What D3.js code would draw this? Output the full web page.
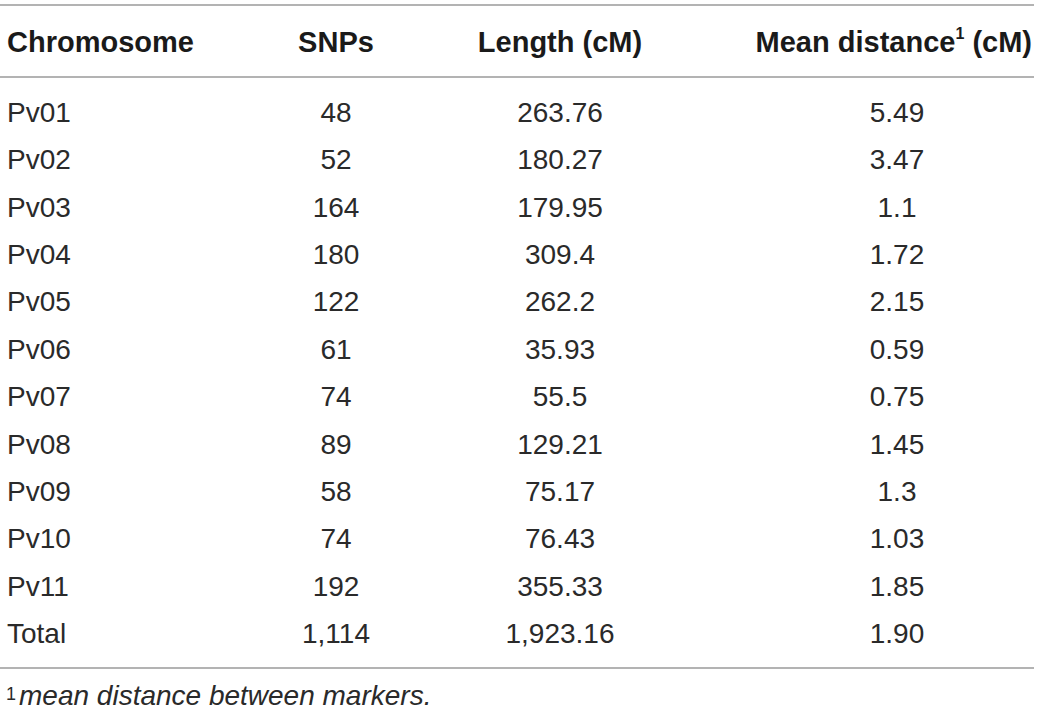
<!DOCTYPE html>
<html>
<head>
<meta charset="utf-8">
<script src="https://cdn.jsdelivr.net/npm/d3@7"></script>
<style>
  body { margin: 0; background: #fff; }
  svg { display: block; font-family: "Liberation Sans", Arial, sans-serif; }
</style>
</head>
<body>
<div id="table"></div>
<script>
// table values
var chromosomes = ["Pv01", "Pv02", "Pv03", "Pv04", "Pv05", "Pv06", "Pv07", "Pv08", "Pv09", "Pv10", "Pv11", "Total"];
var snps = ["48", "52", "164", "180", "122", "61", "74", "89", "58", "74", "192", "1,114"];
var lengths = ["263.76", "180.27", "179.95", "309.4", "262.2", "35.93", "55.5", "129.21", "75.17", "76.43", "355.33", "1,923.16"];
var meanDist = ["5.49", "3.47", "1.1", "1.72", "2.15", "0.59", "0.75", "1.45", "1.3", "1.03", "1.85", "1.90"];
var headers = ["Chromosome", "SNPs", "Length (cM)", "Mean distance"];
var footnote = "mean distance between markers.";

var W = 1040, H = 718;
var textColor = "#2a2a2a";
var ruleColor = "#9a9a9a";

var svg = d3.select("#table").append("svg")
  .attr("width", W)
  .attr("height", H);

// row baselines
var y = d3.scalePoint()
  .domain(chromosomes)
  .range([122, 643]);

// column centres (first column is left aligned)
var colX = d3.scaleOrdinal()
  .domain(["chrom", "snps", "length", "mean"])
  .range([7, 336, 560, 897]);

// rules
var rules = [5, 77, 668];
svg.selectAll(".rule")
  .data(rules)
  .enter()
  .append("line")
  .attr("class", "rule")
  .attr("x1", 0)
  .attr("x2", 1034)
  .attr("y1", function(d) { return d; })
  .attr("y2", function(d) { return d; })
  .attr("stroke", ruleColor)
  .attr("stroke-width", 1.5);

// header
var head = svg.append("g")
  .attr("font-weight", "bold")
  .attr("font-size", 29)
  .attr("fill", "#1a1a1a");

head.append("text")
  .attr("x", colX("chrom"))
  .attr("y", 52)
  .text(headers[0]);

head.append("text")
  .attr("x", colX("snps"))
  .attr("y", 52)
  .attr("text-anchor", "middle")
  .text(headers[1]);

head.append("text")
  .attr("x", colX("length"))
  .attr("y", 52)
  .attr("text-anchor", "middle")
  .text(headers[2]);

var meanHead = head.append("text")
  .attr("x", 1032)
  .attr("y", 52)
  .attr("text-anchor", "end");
meanHead.append("tspan").text(headers[3]);
meanHead.append("tspan")
  .attr("font-size", 16)
  .attr("dy", -13)
  .text("1");
meanHead.append("tspan")
  .attr("dy", 13)
  .text(" (cM)");

// body rows
var rows = svg.selectAll(".row")
  .data(chromosomes)
  .enter()
  .append("g")
  .attr("class", "row")
  .attr("font-size", 28)
  .attr("fill", textColor);

rows.append("text")
  .attr("x", colX("chrom"))
  .attr("y", function(d) { return y(d); })
  .text(function(d) { return d; });

rows.append("text")
  .attr("x", colX("snps"))
  .attr("y", function(d) { return y(d); })
  .attr("text-anchor", "middle")
  .text(function(d, i) { return snps[i]; });

rows.append("text")
  .attr("x", colX("length"))
  .attr("y", function(d) { return y(d); })
  .attr("text-anchor", "middle")
  .text(function(d, i) { return lengths[i]; });

rows.append("text")
  .attr("x", colX("mean"))
  .attr("y", function(d) { return y(d); })
  .attr("text-anchor", "middle")
  .text(function(d, i) { return meanDist[i]; });

// footnote
var foot = svg.append("text")
  .attr("x", 6)
  .attr("y", 705)
  .attr("font-size", 28)
  .attr("fill", textColor);
foot.append("tspan")
  .attr("font-size", 18)
  .attr("dy", -5)
  .text("1");
foot.append("tspan")
  .attr("dx", 3)
  .attr("dy", 5)
  .attr("font-style", "italic")
  .text(footnote);
</script>
</body>
</html>
